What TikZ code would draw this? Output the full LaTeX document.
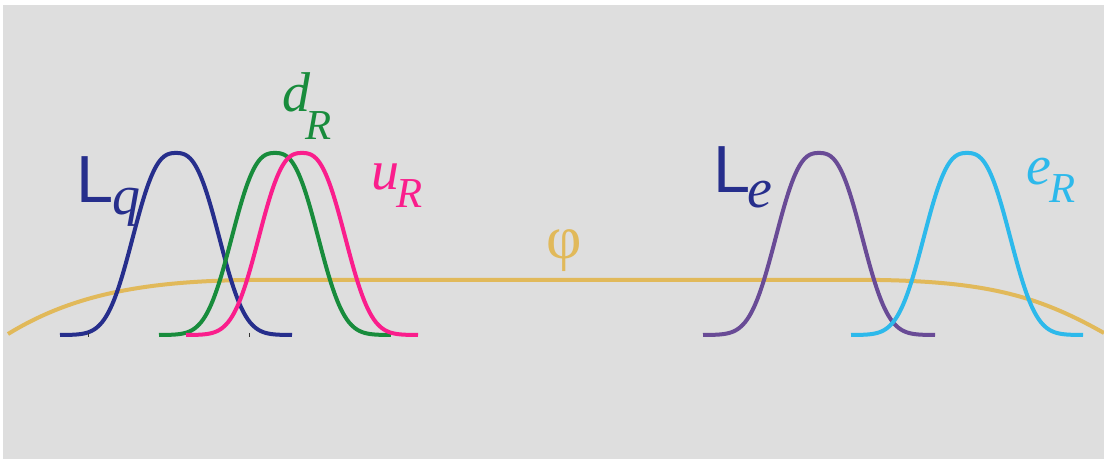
\documentclass[tikz,border=0pt]{standalone}
\usepackage{fontspec}
\setmainfont{Liberation Serif}
\newfontfamily\lsans{Liberation Sans}
\definecolor{bggray}{RGB}{222,222,222}
\definecolor{navyc}{RGB}{38,46,140}
\definecolor{greenc}{RGB}{24,140,60}
\definecolor{pinkc}{RGB}{250,30,140}
\definecolor{purplec}{RGB}{105,75,150}
\definecolor{cyanc}{RGB}{45,185,235}
\definecolor{goldc}{RGB}{225,185,90}
\tikzset{
  bump/.style={line width=3pt},
  lab/.style={inner sep=0pt, outer sep=0pt, anchor=base},
  bigL/.style={lab, font=\fontsize{50}{50}\selectfont\lsans},
  mainit/.style={lab, font=\fontsize{42}{42}\selectfont\itshape},
  subit/.style={lab, font=\fontsize{32}{32}\selectfont\itshape},
  tick/.style={line width=0.75pt, black!80}
}
\begin{document}
\begin{tikzpicture}[x=0.75pt,y=-0.75pt]
\useasboundingbox (0,0) rectangle (1104,459);
\fill[white] (0,0) rectangle (1104,459);
\fill[bggray] (3,5) rectangle (1104,459);
% Higgs profile
\draw[goldc, line width=3pt] (8,334) .. controls (70,296) and (140,281) .. (250,280) -- (880,280) .. controls (990,282) and (1040,297) .. (1104,333);
% bumps
\foreach \c/\col in {176/navyc, 275/greenc, 302/pinkc, 819/purplec, 967/cyanc}{
  \draw[bump, \col] plot[domain=-116:116, samples=90, smooth] ({\c+\x},{335-182*exp(-(abs(\x/51.5))^2.7)});
}
% ticks
\draw[tick] (88,333) -- (88,337.5);
\draw[tick] (249,333) -- (249,337.5);
% labels
\node[bigL, text=navyc] (Lq) at (95.5,203) {L};
\node[mainit, text=navyc] (q) at (126,215) {q};
\node[mainit, text=greenc] (d) at (296,112) {d};
\node[subit, text=greenc] (dR) at (319,140) {R};
\node[mainit, text=pinkc] (u) at (385,190) {u};
\node[subit, text=pinkc] (uR) at (410,208) {R};
\node[bigL, text=navyc] (Le) at (732,193) {L};
\node[mainit, text=navyc] (e) at (760,208) {e};
\node[mainit, text=cyanc] (eR) at (1039,185) {e};
\node[subit, text=cyanc] (eRR) at (1063,203) {R};
\node[inner sep=0pt, text=goldc, font=\fontsize{46}{46}\selectfont] (phi) at (564.5,251) {φ};
\end{tikzpicture}
\end{document}
